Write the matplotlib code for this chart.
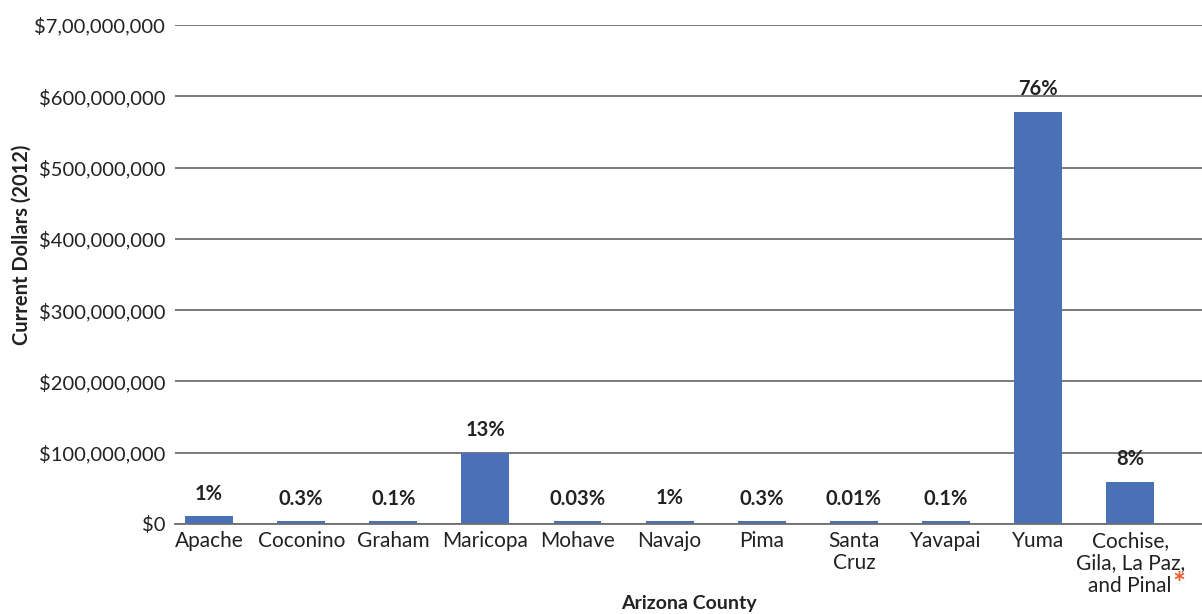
import matplotlib
matplotlib.use('Agg')
import matplotlib.pyplot as plt

# counties and values (current dollars, 2012)
counties = ['Apache', 'Coconino', 'Graham', 'Maricopa', 'Mohave', 'Navajo', 'Pima',
            'Santa\nCruz', 'Yavapai', 'Yuma', 'Cochise,\nGila, La Paz,\nand Pinal']
values = [11e6, 3.5e6, 3.5e6, 100e6, 3.5e6, 4.5e6, 3.5e6, 3.5e6, 3.5e6, 578e6, 59e6]
shares = ['1%', '0.3%', '0.1%', '13%', '0.03%', '1%', '0.3%', '0.01%', '0.1%', '76%', '8%']
yticks = [0, 100e6, 200e6, 300e6, 400e6, 500e6, 600e6, 700e6]
ytick_labels = ['$0', '$100,000,000', '$200,000,000', '$300,000,000', '$400,000,000',
                '$500,000,000', '$600,000,000', '$7,00,000,000']

plt.rcParams['font.family'] = ['Lato', 'DejaVu Sans']
txt = '#222222'
grid = '#6e6e6e'

fig = plt.figure(figsize=(12.02, 6.14), dpi=100)
ax = fig.add_axes([0.1456, 0.1466, 0.8544, 0.8127])

x = list(range(len(counties)))
ax.bar(x, values, width=0.52, color='#4a70b7', zorder=2)

# percentage labels above bars
for xi, v, s in zip(x, values, shares):
    ax.annotate(s, (xi, v), xytext=(0, 9), textcoords='offset points',
                ha='center', va='bottom', fontsize=14.5, fontweight='bold', color=txt)

ax.set_ylim(0, 700e6)
ax.set_xlim(-0.37, 10.78)
ax.set_yticks(yticks)
ax.set_yticklabels(ytick_labels, fontsize=14.5, color=txt)
ax.set_xticks(x)
ax.set_xticklabels(counties, fontsize=15, color=txt, linespacing=1.15)
ax.tick_params(length=0, pad=5)
ax.tick_params(axis='y', pad=7)

ax.grid(axis='y', color=grid, linewidth=1.3, zorder=0)
for sp in ['top', 'right', 'left']:
    ax.spines[sp].set_visible(False)
ax.spines['bottom'].set_color(grid)
ax.spines['bottom'].set_linewidth(1.3)
ax.spines['bottom'].set_zorder(3)

# red asterisk after the last label
last = ax.get_xticklabels()[-1]
ax.annotate('*', xy=(1, 0), xycoords=last, xytext=(-4.5, -2), textcoords='offset points',
            ha='center', va='bottom', fontsize=22, fontweight='bold', color='#f05a28')

ax.set_xlabel('Arizona County', fontsize=14, fontweight='bold', color=txt)
ax.xaxis.set_label_coords(0.5, -0.142)
ax.set_ylabel('Current Dollars (2012)', fontsize=14.5, fontweight='bold', color=txt)
ax.yaxis.set_label_coords(-0.14, 0.56)

fig.savefig('out.png', dpi=100)
